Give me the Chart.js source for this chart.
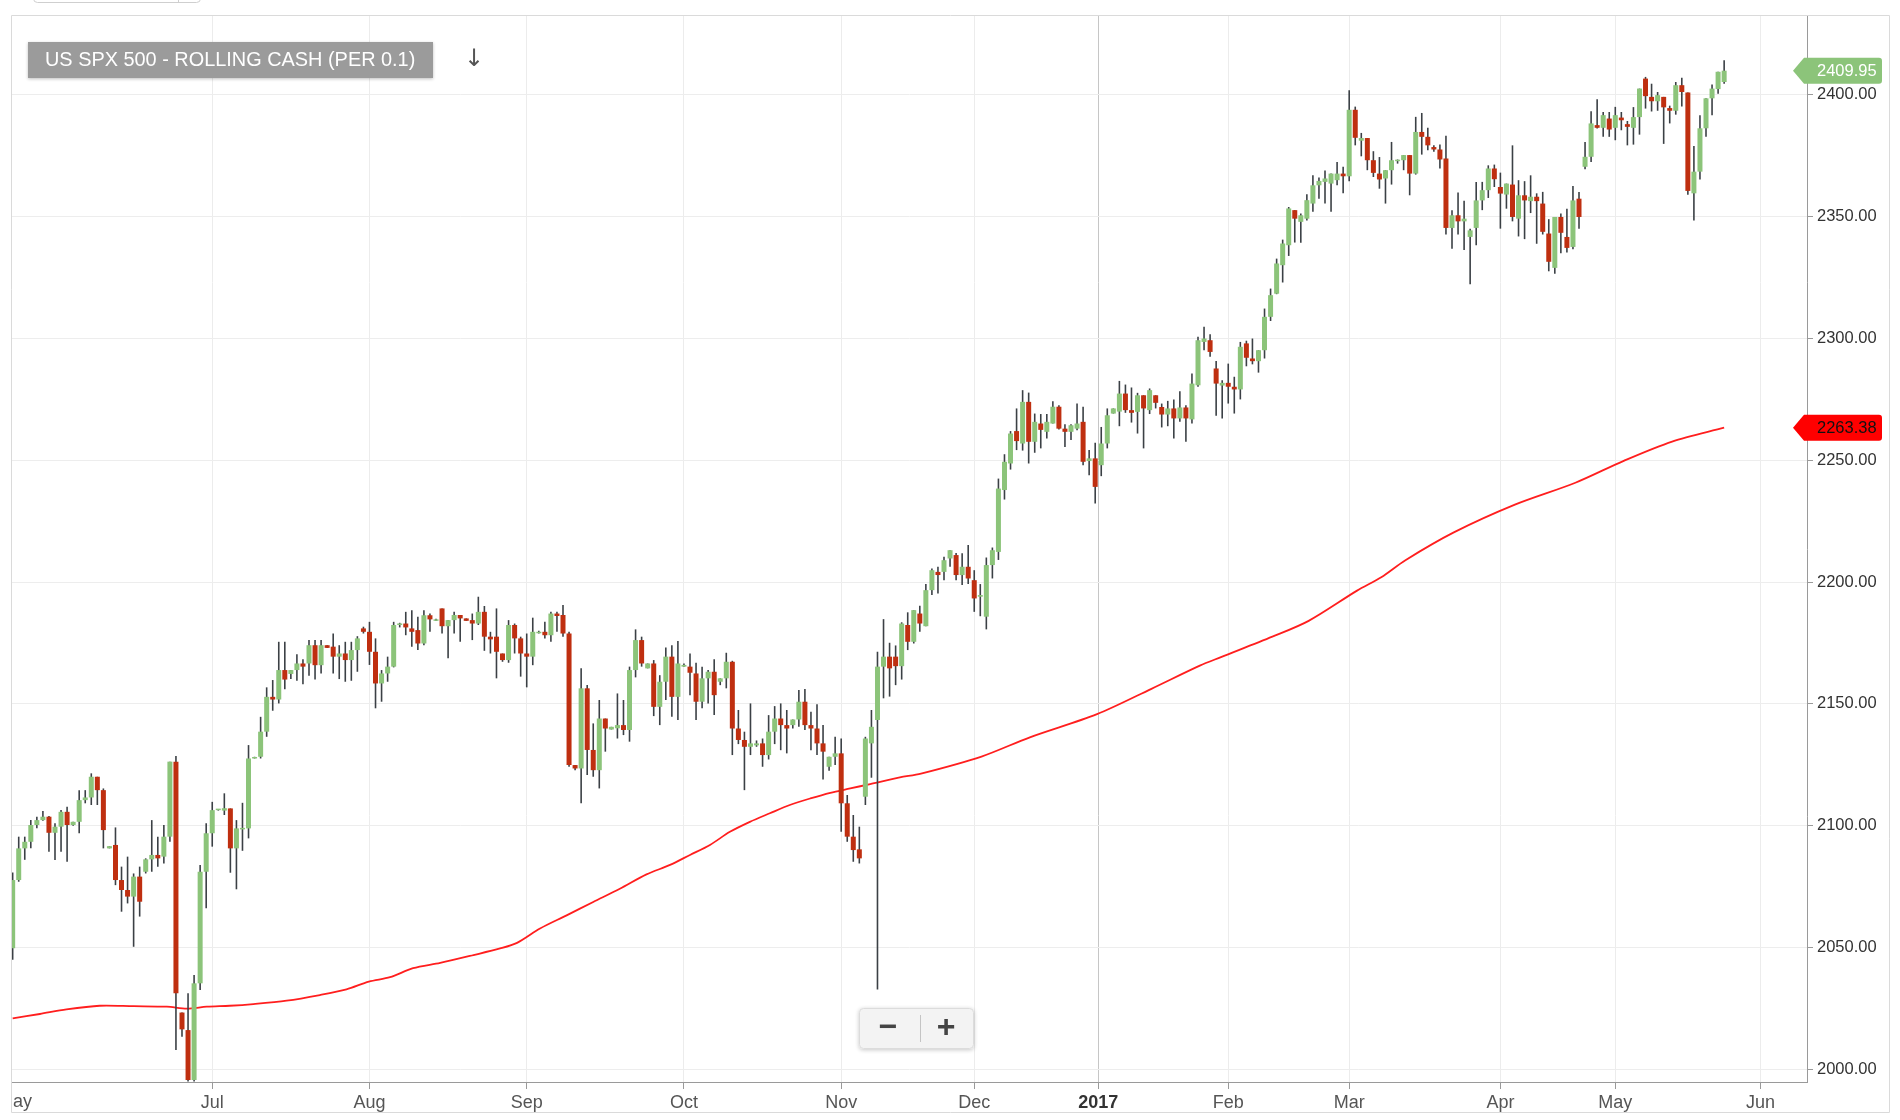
<!DOCTYPE html>
<html>
<head>
<meta charset="utf-8">
<title>US SPX 500 - Rolling Cash</title>
<script src="https://cdn.jsdelivr.net/npm/chart.js@4.4.0/dist/chart.umd.min.js"></script>
<style>
  html, body { margin: 0; padding: 0; background: #fff; }
  #wrap { position: relative; width: 1900px; height: 1120px; }
</style>
</head>
<body>
<div id="wrap"><canvas id="chart"></canvas></div>
<script>
// daily candles, May 2016 - May 2017
const opens = [
  2049.7,2077.7,2090.7,2093.4,2100.3,2102.3,2103.7,2097.1,2099.6,2105.7,
  2100.3,2101.6,2110.5,2111.6,2120.1,2114.6,2090.7,2092.1,2077.7,2073.6,
  2070.9,2079.1,2081.1,2086.2,2088.0,2087.3,2095.5,2126.3,2023.3,2016.1,
  1995.6,2035.3,2081.1,2096.9,2106.4,2106.2,2107.1,2090.7,2098.5,2098.9,
  2127.6,2128.3,2138.6,2152.9,2151.8,2163.9,2162.3,2163.9,2166.6,2166.6,
  2174.1,2165.9,2174.1,2173.5,2169.4,2170.7,2168.0,2172.1,2181.0,2179.6,
  2171.4,2158.4,2162.5,2165.3,2182.4,2183.0,2181.0,2180.3,2174.8,2186.4,
  2184.1,2189.2,2181.9,2184.4,2186.5,2185.1,2184.4,2183.0,2187.8,2177.6,
  2177.6,2170.7,2168.0,2182.4,2176.9,2170.7,2169.4,2179.0,2179.6,2178.2,
  2187.1,2186.5,2178.9,2124.9,2123.5,2156.4,2131.1,2122.8,2144.0,2139.5,
  2140.0,2141.3,2139.3,2163.9,2176.2,2164.6,2166.6,2148.8,2159.1,2169.4,
  2152.9,2165.3,2165.3,2162.5,2150.9,2160.5,2163.2,2159.1,2160.5,2167.3,
  2139.9,2135.2,2132.4,2133.0,2133.8,2129.0,2138.6,2144.0,2141.3,2141.3,
  2143.6,2150.9,2141.3,2139.9,2133.8,2124.2,2128.3,2129.7,2109.2,2095.5,
  2090.3,2111.9,2133.8,2143.4,2165.3,2169.4,2169.4,2165.5,2182.4,2175.5,
  2187.1,2181.9,2196.7,2204.2,2204.2,2209.7,2211.1,2202.9,2206.3,2200.8,
  2194.0,2185.8,2207.0,2212.4,2237.8,2248.7,2262.0,2256.9,2274.0,2257.6,
  2265.1,2261.7,2265.1,2272.0,2263.0,2261.7,2263.0,2265.8,2249.7,2250.8,
  2248.0,2256.9,2269.2,2270.0,2277.4,2270.6,2269.9,2276.7,2270.6,2276.7,
  2271.9,2268.8,2271.3,2267.2,2271.7,2266.8,2280.8,2298.6,2299.3,2287.7,
  2280.7,2281.8,2280.2,2279.1,2298.0,2291.8,2290.7,2295.2,2308.9,2318.4,
  2330.1,2338.3,2352.7,2347.9,2349.2,2355.4,2362.9,2364.3,2363.6,2365.0,
  2367.7,2366.6,2393.9,2381.2,2382.3,2373.2,2367.7,2365.7,2369.1,2372.8,
  2373.2,2375.3,2367.7,2384.8,2382.8,2378.6,2377.6,2373.9,2345.4,2350.6,
  2348.1,2341.7,2345.4,2356.7,2360.9,2369.8,2362.2,2359.1,2363.2,2349.2,
  2358.8,2356.4,2358.2,2355.4,2343.1,2329.0,2349.9,2341.7,2337.6,2357.4,
  2370.5,2374.6,2387.6,2386.5,2390.3,2386.5,2390.7,2388.0,2386.5,2390.9,
  2406.7,2399.2,2397.4,2399.2,2394.6,2393.5,2404.0,2401.0,2359.6,2368.5,
  2386.3,2398.6,2402.4,2405.3
];
const highs = [
  2080.8,2095.5,2095.5,2102.3,2103.7,2106.0,2104.0,2101.0,2106.4,2107.8,
  2101.6,2114.6,2114.6,2121.5,2120.1,2115.3,2091.6,2099.3,2083.2,2087.3,
  2080.4,2083.2,2086.6,2102.3,2095.5,2100.3,2126.3,2128.6,2023.3,2031.2,
  2038.7,2083.9,2101.0,2109.8,2106.8,2113.3,2107.1,2102.3,2109.4,2133.1,
  2128.3,2144.7,2156.8,2159.8,2175.5,2175.5,2163.9,2170.4,2168.3,2176.2,
  2176.2,2176.2,2174.1,2178.9,2174.1,2175.5,2175.5,2177.8,2181.7,2183.7,
  2176.9,2163.9,2169.4,2183.7,2183.3,2187.8,2188.5,2185.8,2188.5,2187.1,
  2185.0,2189.2,2184.4,2187.8,2186.5,2185.1,2187.1,2194.0,2190.2,2179.6,
  2189.2,2170.7,2184.4,2183.0,2177.6,2178.9,2185.4,2180.0,2183.7,2187.8,
  2187.8,2190.6,2179.6,2124.9,2164.6,2157.8,2142.0,2151.6,2144.0,2140.6,
  2154.3,2151.6,2165.3,2180.6,2177.6,2166.6,2168.0,2161.8,2173.2,2174.1,
  2175.8,2166.6,2170.7,2166.9,2165.3,2163.9,2168.3,2160.5,2171.0,2167.7,
  2147.5,2138.6,2150.2,2135.0,2135.8,2145.4,2149.1,2150.2,2147.5,2143.6,
  2155.7,2156.1,2146.8,2149.9,2141.3,2128.3,2136.5,2135.8,2112.6,2104.4,
  2099.6,2136.5,2147.5,2171.4,2184.8,2175.1,2174.0,2183.5,2187.6,2188.5,
  2190.3,2199.2,2205.6,2206.3,2210.4,2213.1,2212.0,2211.8,2215.2,2204.9,
  2199.2,2210.1,2214.2,2242.5,2252.5,2262.0,2271.3,2278.8,2277.8,2269.2,
  2269.0,2269.0,2274.3,2272.6,2264.8,2264.8,2273.3,2272.0,2254.2,2257.2,
  2263.7,2271.3,2271.3,2282.6,2281.1,2279.9,2277.7,2276.7,2279.5,2276.7,
  2273.3,2274.4,2275.0,2278.4,2272.6,2285.6,2300.7,2304.8,2301.8,2290.8,
  2282.9,2289.7,2284.3,2298.6,2299.1,2300.0,2295.2,2312.3,2320.5,2332.8,
  2340.6,2354.0,2352.7,2351.3,2359.2,2367.0,2366.1,2369.0,2367.7,2372.5,
  2370.5,2401.9,2395.2,2384.4,2382.3,2376.9,2374.5,2369.1,2380.7,2373.5,
  2375.3,2375.3,2391.0,2392.6,2386.5,2379.3,2379.7,2383.2,2352.7,2359.9,
  2356.6,2345.1,2364.3,2364.3,2371.1,2371.4,2368.1,2363.6,2379.3,2365.0,
  2364.6,2367.0,2359.6,2360.2,2349.0,2349.9,2351.3,2353.3,2362.6,2360.2,
  2380.7,2393.3,2398.2,2393.0,2393.0,2395.1,2393.0,2389.3,2395.0,2402.6,
  2407.4,2404.6,2401.2,2399.2,2395.6,2405.3,2407.0,2401.0,2379.0,2391.7,
  2398.6,2404.3,2409.5,2414.2
];
const lows = [
  2045.0,2077.0,2086.0,2090.7,2099.0,2102.0,2089.3,2085.9,2089.3,2085.2,
  2100.0,2096.9,2109.2,2108.5,2108.5,2090.7,2090.7,2075.6,2064.7,2068.1,
  2050.3,2062.7,2080.4,2081.1,2083.2,2084.5,2093.4,2007.9,2013.4,1995.0,
  1995.0,2032.6,2066.1,2091.4,2106.2,2104.4,2080.7,2073.9,2089.7,2094.8,
  2127.6,2127.6,2136.5,2147.2,2150.2,2156.0,2160.2,2159.5,2158.1,2161.6,
  2160.0,2162.5,2173.0,2162.5,2160.2,2159.1,2159.5,2163.2,2178.9,2166.0,
  2148.2,2150.9,2159.1,2165.0,2181.4,2178.2,2173.5,2172.1,2174.1,2179.6,
  2184.0,2178.9,2168.7,2178.9,2175.5,2184.1,2176.2,2182.4,2171.8,2170.7,
  2160.5,2167.3,2166.9,2170.7,2161.2,2156.8,2165.9,2178.9,2176.9,2175.5,
  2179.6,2177.6,2124.2,2122.8,2109.2,2120.8,2120.1,2115.3,2130.4,2139.5,
  2135.8,2137.2,2134.5,2160.9,2165.3,2164.6,2145.0,2141.3,2151.6,2144.7,
  2143.4,2165.3,2153.6,2143.4,2148.2,2150.2,2145.4,2157.7,2156.4,2129.0,
  2133.5,2114.6,2129.0,2132.4,2124.2,2127.2,2133.5,2131.0,2129.7,2139.9,
  2140.6,2139.3,2131.0,2129.0,2119.0,2122.6,2124.9,2097.5,2093.4,2085.2,
  2084.5,2108.5,2119.7,2032.8,2152.3,2153.0,2157.7,2160.0,2172.1,2174.8,
  2179.6,2181.9,2194.7,2195.3,2200.8,2206.3,2200.8,2198.8,2199.2,2187.8,
  2186.0,2180.6,2201.5,2209.1,2233.9,2246.2,2254.2,2254.0,2248.7,2253.1,
  2254.9,2259.0,2265.1,2262.7,2255.5,2258.3,2262.3,2248.0,2243.9,2232.3,
  2243.5,2254.9,2269.2,2264.0,2269.5,2265.5,2261.0,2254.9,2269.0,2271.3,
  2263.5,2264.0,2259.0,2265.8,2257.6,2265.1,2280.2,2295.2,2292.5,2268.3,
  2267.2,2273.3,2269.2,2275.0,2288.6,2289.4,2286.0,2291.8,2307.2,2318.2,
  2323.0,2333.9,2339.4,2339.3,2348.5,2352.0,2357.4,2355.4,2352.0,2362.9,
  2359.6,2364.6,2379.3,2374.8,2369.1,2366.3,2361.5,2355.4,2363.2,2371.8,
  2369.1,2358.8,2367.3,2375.5,2377.3,2376.7,2369.8,2342.7,2336.9,2342.7,
  2336.3,2322.3,2338.3,2352.7,2357.7,2362.2,2345.1,2353.3,2348.1,2341.9,
  2340.8,2351.5,2338.9,2342.7,2327.6,2326.6,2335.0,2335.3,2336.6,2345.1,
  2369.5,2372.5,2386.2,2382.8,2382.8,2381.4,2385.5,2379.3,2379.6,2383.7,
  2394.4,2393.2,2393.5,2379.9,2388.3,2391.9,2395.2,2359.0,2348.5,2365.3,
  2382.8,2391.7,2400.5,2404.6
];
const closes = [
  2077.7,2090.7,2093.4,2100.3,2102.3,2103.7,2097.1,2099.6,2105.7,2100.3,
  2101.6,2110.5,2111.6,2120.1,2114.6,2098.2,2091.6,2077.7,2073.6,2070.9,
  2079.1,2068.8,2086.2,2088.0,2086.6,2095.5,2126.3,2031.2,2016.4,1995.6,
  2035.3,2081.1,2096.9,2106.4,2106.6,2107.2,2090.7,2098.9,2098.9,2127.6,
  2128.0,2138.6,2152.9,2151.8,2163.9,2160.0,2163.9,2166.6,2165.3,2174.1,
  2165.9,2174.1,2173.0,2169.4,2170.7,2168.0,2172.1,2176.9,2179.6,2171.4,
  2158.4,2162.5,2165.3,2182.4,2183.0,2181.4,2179.6,2174.8,2186.4,2184.7,
  2184.7,2181.9,2184.4,2186.5,2185.1,2184.1,2183.0,2187.8,2177.6,2176.5,
  2171.4,2168.0,2182.4,2176.9,2170.7,2169.4,2179.6,2179.6,2178.2,2187.1,
  2186.1,2178.9,2124.9,2123.5,2156.4,2131.1,2122.8,2144.0,2139.9,2140.6,
  2141.3,2139.3,2163.9,2176.2,2166.6,2166.6,2148.8,2159.1,2169.4,2152.9,
  2166.6,2166.0,2162.8,2150.9,2160.5,2163.2,2153.6,2160.5,2167.3,2139.9,
  2135.2,2132.4,2133.8,2133.8,2129.0,2138.6,2144.0,2141.3,2139.9,2143.6,
  2150.9,2141.3,2139.9,2133.8,2130.4,2128.3,2129.7,2109.2,2095.5,2090.0,
  2086.6,2135.8,2140.6,2165.3,2169.4,2164.6,2165.5,2183.0,2175.5,2188.5,
  2183.0,2196.7,2204.9,2202.9,2209.0,2213.1,2202.9,2206.3,2201.5,2193.3,
  2194.7,2207.0,2213.1,2238.4,2249.4,2261.0,2257.9,2274.0,2257.6,2265.8,
  2262.5,2265.8,2272.0,2263.0,2261.7,2264.4,2265.1,2249.4,2250.8,2239.1,
  2256.9,2268.5,2271.3,2277.4,2270.6,2269.5,2276.7,2271.3,2278.8,2273.6,
  2268.8,2271.3,2267.2,2271.7,2267.2,2281.5,2299.3,2300.0,2294.5,2281.5,
  2281.8,2280.2,2279.1,2296.6,2292.1,2290.7,2295.2,2308.9,2317.8,2330.8,
  2339.0,2353.4,2349.2,2350.6,2356.8,2362.9,2364.7,2365.7,2367.7,2367.7,
  2366.6,2393.9,2382.4,2382.3,2373.2,2368.0,2365.3,2369.1,2373.2,2373.2,
  2375.3,2367.7,2384.8,2382.8,2379.3,2377.6,2373.5,2345.4,2350.6,2348.1,
  2349.2,2344.4,2356.7,2360.9,2369.8,2365.4,2359.5,2363.6,2349.9,2358.8,
  2356.7,2358.2,2356.4,2343.8,2331.5,2349.9,2343.4,2337.2,2356.7,2349.9,
  2374.6,2388.3,2386.5,2391.7,2385.8,2391.7,2389.6,2386.9,2390.9,2402.6,
  2399.5,2397.4,2399.9,2394.9,2393.5,2404.0,2401.2,2360.6,2368.5,2386.3,
  2398.6,2402.6,2409.5,2409.95
];

// moving average line, sampled along the candle index
const maIdx = [0,4.5,8.9,14.4,20,25.5,28.8,32.1,35.9,39.8,45.3,50.8,55.2,58.9,62.4,66.2,
  70.7,76.2,80.6,83.4,87.2,91.6,96,100.4,104.8,108.7,112,115.3,118.6,121.9,125.2,128.5,
  131.9,135.2,138.5,141.8,146.7,150.2,160.2,168.2,179.3,188.3,196.3,199.8,208.3,214.3,
  222.3,226.3,230.3,238.3,248.4,258.4,266.4,274.4,283];
const maValues = [2020.9,2022.7,2024.6,2026.1,2025.9,2025.7,2024.9,2025.7,2026.1,2026.8,2028.2,2030.5,
  2032.8,2036.0,2037.8,2041.5,2043.7,2046.9,2049.6,2051.9,2057.8,2063.2,2068.7,2074.1,2080.0,
  2083.9,2088.0,2092.1,2097.5,2101.6,2105.1,2108.5,2111.2,2113.5,2115.3,2117.1,2119.8,2121.4,
  2128.4,2136.3,2145.8,2156.2,2165.7,2169.2,2177.6,2184.1,2196.5,2202.0,2209.0,2220.4,2231.8,
  2240.8,2249.8,2257.7,2263.38];

// axis ticks
const monthIdx = [33, 59, 85, 111, 137, 159, 179.5, 201, 221, 246, 265, 289];
const monthLabels = ['Jul', 'Aug', 'Sep', 'Oct', 'Nov', 'Dec', '2017', 'Feb', 'Mar', 'Apr', 'May', 'Jun'];
const yTicks = [2000, 2050, 2100, 2150, 2200, 2250, 2300, 2350, 2400];

const FONT = "'Liberation Sans', Arial, Helvetica, sans-serif";
const UP = '#8cc47a';
const DOWN = '#bf2f10';
const WICK = '#3b4045';

const bodies = opens.map((o, i) => ({ x: i, y: [o, closes[i]] }));
const wicks = opens.map((o, i) => ({ x: i, y: [lows[i], highs[i]] }));
const bodyColors = opens.map((o, i) => (closes[i] >= o ? UP : DOWN));
const maPoints = maIdx.map((x, k) => ({ x: x, y: maValues[k] }));

function priceTag(ctx, y, text, fill, color) {
  ctx.save();
  ctx.fillStyle = fill;
  ctx.beginPath();
  ctx.moveTo(1793, y);
  ctx.lineTo(1804, y - 13);
  ctx.lineTo(1879, y - 13);
  ctx.quadraticCurveTo(1882, y - 13, 1882, y - 10);
  ctx.lineTo(1882, y + 10);
  ctx.quadraticCurveTo(1882, y + 13, 1879, y + 13);
  ctx.lineTo(1804, y + 13);
  ctx.closePath();
  ctx.fill();
  ctx.fillStyle = color;
  ctx.font = '16.5px ' + FONT;
  ctx.textAlign = 'left';
  ctx.textBaseline = 'middle';
  ctx.fillText(text, 1817, y + 1);
  ctx.restore();
}

const overlay = {
  id: 'overlay',
  afterDraw(chart) {
    const ctx = chart.ctx;
    const a = chart.chartArea;
    ctx.save();

    // widget frame
    ctx.strokeStyle = '#dadada';
    ctx.lineWidth = 1;
    ctx.beginPath();
    ctx.moveTo(11.5, 15.5); ctx.lineTo(1889.5, 15.5);
    ctx.moveTo(11.5, 15.5); ctx.lineTo(11.5, 1112.5);
    ctx.moveTo(1889.5, 15.5); ctx.lineTo(1889.5, 1112.5);
    ctx.moveTo(11.5, 1112.5); ctx.lineTo(1889.5, 1112.5);
    ctx.stroke();

    // cut-off tab at the very top
    ctx.strokeStyle = '#cfcfcf';
    ctx.beginPath();
    ctx.roundRect(33.5, -12, 167, 14.5, 4);
    ctx.moveTo(178.5, -2); ctx.lineTo(178.5, 2.5);
    ctx.stroke();

    // title box
    ctx.save();
    ctx.shadowColor = 'rgba(0,0,0,0.25)';
    ctx.shadowBlur = 3;
    ctx.shadowOffsetY = 1;
    ctx.fillStyle = '#9b9b9b';
    ctx.fillRect(28, 42, 405, 36);
    ctx.restore();
    const title = 'US SPX 500 - ROLLING CASH (PER 0.1)';
    ctx.font = '20px ' + FONT;
    const size = Math.min(21, 20 * 370 / ctx.measureText(title).width);
    ctx.font = size.toFixed(1) + 'px ' + FONT;
    ctx.fillStyle = '#ffffff';
    ctx.textAlign = 'left';
    ctx.textBaseline = 'middle';
    ctx.fillText(title, 45, 61);

    // download arrow
    ctx.font = '24px "DejaVu Sans", ' + FONT;
    ctx.fillStyle = '#555';
    ctx.textAlign = 'center';
    ctx.fillText('\u2193', 474, 60);

    // clipped first month label at the left edge
    ctx.save();
    ctx.beginPath();
    ctx.rect(a.left, a.bottom + 1, 120, 36);
    ctx.clip();
    ctx.font = '18px ' + FONT;
    ctx.fillStyle = '#555';
    ctx.textAlign = 'right';
    ctx.textBaseline = 'middle';
    ctx.fillText('May', 32, 1102);
    ctx.restore();

    // zoom buttons
    ctx.save();
    ctx.shadowColor = 'rgba(0,0,0,0.22)';
    ctx.shadowBlur = 4;
    ctx.shadowOffsetY = 1;
    ctx.fillStyle = '#f3f3f3';
    ctx.beginPath();
    ctx.roundRect(859, 1008, 115, 41, 4);
    ctx.fill();
    ctx.restore();
    ctx.strokeStyle = '#dcdcdc';
    ctx.beginPath();
    ctx.roundRect(859.5, 1008.5, 114, 40, 4);
    ctx.stroke();
    ctx.strokeStyle = '#c4c4c4';
    ctx.beginPath();
    ctx.moveTo(920.5, 1015); ctx.lineTo(920.5, 1042);
    ctx.stroke();
    ctx.fillStyle = '#444';
    ctx.font = 'bold 32px ' + FONT;
    ctx.textAlign = 'center';
    ctx.textBaseline = 'middle';
    ctx.fillText('\u2212', 888, 1028);
    ctx.fillText('+', 946, 1028);

    // last price and moving average tags
    const ys = chart.scales.y;
    const lastClose = closes[closes.length - 1];
    const lastMa = maValues[maValues.length - 1];
    priceTag(ctx, ys.getPixelForValue(lastClose), lastClose.toFixed(2), UP, '#ffffff');
    priceTag(ctx, ys.getPixelForValue(lastMa), lastMa.toFixed(2), '#ff0000', '#111111');

    ctx.restore();
  }
};

new Chart(document.getElementById('chart'), {
  type: 'bar',
  data: {
    datasets: [
      {
        type: 'bar', data: bodies, backgroundColor: bodyColors,
        barThickness: 5, minBarLength: 1.5, grouped: false,
        borderWidth: 0, inflateAmount: 0, order: 0, clip: 0
      },
      {
        type: 'bar', data: wicks, backgroundColor: WICK,
        barThickness: 1.6, grouped: false,
        borderWidth: 0, inflateAmount: 0, order: 1, clip: 0
      },
      {
        type: 'line', data: maPoints, borderColor: '#ff1e1e', borderWidth: 1.8,
        pointRadius: 0, tension: 0.3, fill: false, order: 2, clip: 0
      }
    ]
  },
  options: {
    responsive: true,
    maintainAspectRatio: false,
    animation: false,
    events: [],
    layout: { padding: { left: 12, top: 16, right: 0, bottom: 0 } },
    plugins: { legend: { display: false }, tooltip: { enabled: false } },
    scales: {
      x: {
        type: 'linear', min: -0.11, max: 296.7, offset: false,
        grid: {
          offset: false,
          color: (c) => (c.tick && c.tick.value === 179.5 ? '#c6c6c6' : '#ececec'),
          tickColor: '#9a9a9a', tickLength: 7
        },
        border: { color: '#9a9a9a' },
        afterBuildTicks: (s) => { s.ticks = monthIdx.map((v) => ({ value: v })); },
        afterFit: (s) => { s.height = 38; },
        ticks: {
          autoSkip: false, maxRotation: 0, padding: 3,
          callback: (v) => monthLabels[monthIdx.indexOf(v)],
          color: (c) => (c.tick && c.tick.value === 179.5 ? '#333' : '#555'),
          font: (c) => ({ family: FONT, size: 18, weight: c.tick && c.tick.value === 179.5 ? 'bold' : 'normal' })
        }
      },
      y: {
        type: 'linear', position: 'right', min: 1994.79, max: 2432.4,
        grid: { color: '#ededed', tickColor: '#9a9a9a', tickLength: 6 },
        border: { color: '#9a9a9a' },
        afterBuildTicks: (s) => { s.ticks = yTicks.map((v) => ({ value: v })); },
        afterFit: (s) => { s.width = 93; },
        ticks: {
          padding: 4, color: '#333',
          font: { family: FONT, size: 16.5 },
          callback: (v) => v.toFixed(2)
        }
      }
    }
  },
  plugins: [overlay]
});
</script>
</body>
</html>
